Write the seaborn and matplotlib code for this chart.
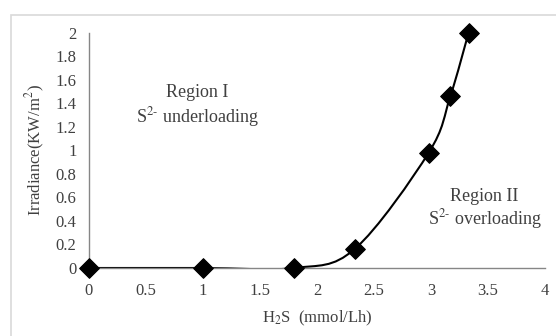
import matplotlib
matplotlib.use("Agg")
import matplotlib.pyplot as plt
import seaborn as sns
import numpy as np
from matplotlib.path import Path
from matplotlib.patches import PathPatch, Rectangle

h2s = [0, 1, 1.8, 2.33, 2.98, 3.17, 3.33]
irradiance = [0, 0, 0, 0.16, 0.98, 1.46, 2.0]
x_ticks = [0, 0.5, 1, 1.5, 2, 2.5, 3, 3.5, 4]
y_ticks = [0, 0.2, 0.4, 0.6, 0.8, 1, 1.2, 1.4, 1.6, 1.8, 2]

sns.set_style("white")
plt.rcParams["font.family"] = ["Liberation Serif", "DejaVu Serif"]
plt.rcParams["mathtext.fontset"] = "stix"

fig = plt.figure(figsize=(5.56, 3.36), dpi=100)
ax = fig.add_axes([0.160, 0.2024, 0.820, 0.6994])

# outer frame like the excel chart area
fig.patches.append(Rectangle((11 / 556, -0.1), 1.2, 1 - 15 / 336 + 0.1, transform=fig.transFigure,
                             fill=False, edgecolor="#d9d9d9", linewidth=1.2))

# smoothed line (excel style bezier through the points)
pts = np.column_stack([h2s, irradiance])
verts = [pts[0]]
codes = [Path.MOVETO]
for i in range(len(pts) - 1):
    p0 = pts[i - 1] if i > 0 else pts[i]
    p1 = pts[i]
    p2 = pts[i + 1]
    p3 = pts[i + 2] if i + 2 < len(pts) else pts[i + 1]
    c1 = p1 + (p2 - p0) / 6
    c2 = p2 - (p3 - p1) / 6
    verts += [c1, c2, p2]
    codes += [Path.CURVE4] * 3
ax.add_patch(PathPatch(Path(verts, codes), fill=False, edgecolor="black", linewidth=1.5, zorder=2))

sns.scatterplot(x=h2s, y=irradiance, marker="D", s=100, color="black", edgecolor="black", ax=ax, zorder=3, clip_on=False)

ax.set_xlim(0, 4)
ax.set_ylim(0, 2)
ax.set_xticks(x_ticks)
ax.set_xticklabels([f"{t:g}" for t in x_ticks])
ax.set_yticks(y_ticks)
ax.set_yticklabels([f"{t:g}" for t in y_ticks])

for side in ["top", "right"]:
    ax.spines[side].set_visible(False)
for side in ["left", "bottom"]:
    ax.spines[side].set_color("#868686")
    ax.spines[side].set_linewidth(1)
ax.tick_params(axis="both", direction="out", length=4, width=1, color="#868686",
               labelsize=12, labelcolor="#404040", pad=5)
ax.tick_params(axis="x", pad=7)

ax.set_xlabel("H$_2$S  (mmol/Lh)", fontsize=12, color="#404040", labelpad=7)
ax.set_ylabel("Irradiance(KW/m$^2$)", fontsize=12, color="#404040", labelpad=6)

ax.text(0.95, 1.49, "Region I", ha="center", va="center", fontsize=13, color="#404040")
ax.text(0.95, 1.285, "S$^{2\\text{-}}$ underloading", ha="center", va="center", fontsize=13, color="#404040")
ax.text(3.47, 0.61, "Region II", ha="center", va="center", fontsize=13, color="#404040")
ax.text(3.47, 0.42, "S$^{2\\text{-}}$ overloading", ha="center", va="center", fontsize=13, color="#404040")

fig.savefig("out.png", dpi=100)
